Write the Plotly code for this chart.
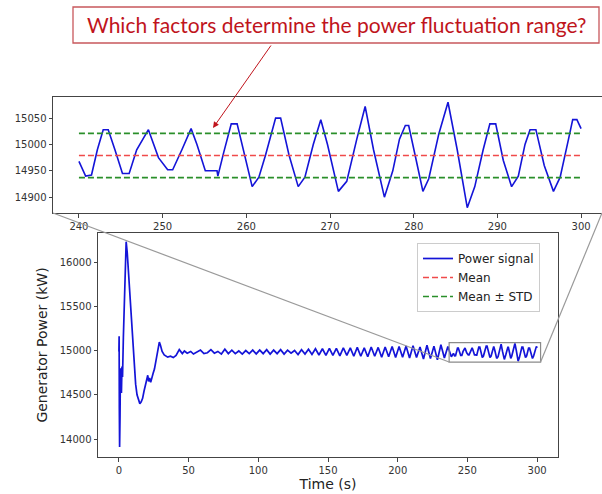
import plotly.graph_objects as go

# ---------------- data ----------------
time_s = [
    0, 0.15, 0.3, 0.5, 0.8, 1.1, 1.4, 1.8, 2.2, 2.6, 3.2, 4.0, 4.8, 5.2, 6.0, 7.0, 8.0, 9.0,
    10.0, 11.0, 12.0, 13.0, 14.0, 15.0, 16.0, 17.0, 18.0, 19.0, 20.0, 20.7, 21.3, 22.0, 22.8,
    23.5, 24.5, 25.5, 26.5, 27.5, 28.3, 29.0, 29.8, 31.0, 32.5, 34.0,
    35, 37, 39, 41, 43.3, 45.5, 47, 49, 51.5, 53.5, 56, 58.5, 61, 63.5, 66, 68.5, 71, 73.5,
    76, 78.5, 81, 83.5, 86, 88.5, 91, 93.5, 96, 98.5, 101, 103.5, 106, 108.5, 111, 113.5,
    116, 118.5, 121, 123.5, 126, 128.5, 131, 133.5, 136, 138.5, 141, 143.5, 146, 148.5,
    151, 153.5, 156, 158.5, 161, 163.5, 166, 168.5, 171, 173.5, 176, 178.5, 181, 183.5,
    186, 188.5, 191, 193.5, 196, 198.5, 201, 203.5, 206, 208.5, 211, 213.5, 216, 218.5,
    221, 223.5, 226, 228.5, 231, 233.5, 236, 238.5,
    240.0, 240.4, 240.8, 241.5, 242.2, 242.9, 243.5, 244.3, 245.2, 246.0, 246.9, 248.3,
    249.5, 250.6, 251.2, 252.3, 253.4, 254.1, 255.1, 256.5, 256.6, 257.3, 258.2, 258.9,
    259.8, 260.7, 261.5, 262.3, 263.5, 264.1, 265.1, 266.2, 267.0, 268.0, 268.9, 269.7,
    271.0, 272.0, 273.2, 274.2, 275.2, 276.5, 277.5, 278.3, 279.0, 279.4, 280.3, 281.1,
    281.8, 283.0, 284.1, 285.2, 286.4, 287.3, 288.3, 289.1, 289.8, 290.7, 291.7, 292.5,
    293.3, 293.9, 294.6, 295.6, 296.7, 297.5, 298.5, 299.0, 299.5, 300.0,
]
power_kw = [
    14990, 15160, 14350, 13910, 14250, 14800, 14600, 14520, 14820, 14700, 15150, 15700,
    16150, 16230, 16100, 15850, 15600, 15300, 15050, 14800, 14620, 14500, 14440, 14400,
    14420, 14460, 14540, 14620, 14680, 14720, 14650, 14690, 14640, 14700, 14740, 14790,
    14880, 14980, 15060, 15095, 15060, 14990, 14950, 14930,
    14925, 14935, 14920, 14945, 15010, 14965, 14995, 14970, 14990, 14960, 14985, 15005,
    14965, 14975, 15010, 14970, 14990, 14960, 15015, 14965, 15005, 14965, 14995, 14960,
    15000, 14965, 15005, 14962, 15005, 14965, 15010, 14960, 15005, 14965, 15010, 14960,
    15005, 14970, 15000, 14955, 15010, 14960, 15015, 14955, 15020, 14950, 15020, 14945,
    15025, 14945, 15025, 14940, 15030, 14945, 15030, 14935, 15035, 14935, 15030, 14930,
    15040, 14935, 15035, 14925, 15040, 14930, 15045, 14920, 15045, 14925, 15050, 14915,
    15055, 14920, 15040, 14905, 15060, 14910, 15050, 14895, 15065, 14915, 15045, 14930,
    14968, 14955, 14940, 14942, 14990, 15028, 15028, 14990, 14945, 14945, 14990, 15028,
    14975, 14952, 14952, 14990, 15030, 15000, 14950, 14950, 14940, 14985, 15039, 15039,
    14980, 14920, 14938, 14980, 15050, 15050, 14980, 14920, 14938, 15000, 15047, 15000,
    14911, 14930, 15010, 15072, 14990, 14900, 14950, 15010, 15036, 15036, 14970, 14911,
    14935, 15020, 15080, 14990, 14880, 14920, 14990, 15039, 15039, 14970, 14920, 14940,
    15000, 15028, 15028, 14960, 14911, 14938, 15010, 15047, 15047, 15030,
]
zoom_window_s = [240, 300]          # time span shown by the inset
mean_kw = 14979
std_kw = 42

main_xticks = [0, 50, 100, 150, 200, 250, 300]
main_yticks = [14000, 14500, 15000, 15500, 16000]
inset_xticks = [240, 250, 260, 270, 280, 290, 300]
inset_yticks = [14900, 14950, 15000, 15050]

question_text = "Which factors determine the power fluctuation range?"

# inset shows only the zoom window
inset_t = [t for t in time_s if zoom_window_s[0] <= t <= zoom_window_s[1]]
inset_p = [p for t, p in zip(time_s, power_kw) if zoom_window_s[0] <= t <= zoom_window_s[1]]

# ---------------- layout geometry ----------------
W, H = 602, 494
main_dom_x = [98 / W, 558 / W]
main_dom_y = [1 - 457 / H, 1 - 233 / H]
main_range_x = [-15, 315]
main_range_y = [13797, 16328]
inset_dom_x = [53 / W, 1.0]
inset_dom_y = [1 - 213 / H, 1 - 97 / H]
inset_range_x = [236.9, 302.5]
inset_range_y = [14870, 15090]

BLUE = "#1414d8"
RED = "#f04a4a"
GREEN = "#2a8f2a"
TICKFONT = dict(family="DejaVu Sans", size=10, color="#333")

fig = go.Figure()

fig.add_trace(go.Scatter(x=time_s, y=power_kw, mode="lines", name="Power signal",
                         line=dict(color=BLUE, width=1.7), xaxis="x", yaxis="y"))
fig.add_trace(go.Scatter(x=inset_t, y=inset_p, mode="lines", name="Power signal",
                         showlegend=False, line=dict(color=BLUE, width=1.6),
                         xaxis="x2", yaxis="y2"))
fig.add_trace(go.Scatter(x=zoom_window_s, y=[mean_kw, mean_kw], mode="lines", name="Mean",
                         line=dict(color=RED, width=1.6, dash="6px,3px"),
                         xaxis="x2", yaxis="y2"))
fig.add_trace(go.Scatter(x=zoom_window_s, y=[mean_kw + std_kw] * 2, mode="lines",
                         name="Mean ± STD", legendgroup="std",
                         line=dict(color=GREEN, width=1.6, dash="6px,3px"),
                         xaxis="x2", yaxis="y2"))
fig.add_trace(go.Scatter(x=zoom_window_s, y=[mean_kw - std_kw] * 2, mode="lines",
                         name="Mean ± STD", legendgroup="std", showlegend=False,
                         line=dict(color=GREEN, width=1.6, dash="6px,3px"),
                         xaxis="x2", yaxis="y2"))


def main_to_paper(x, y):
    px = main_dom_x[0] + (x - main_range_x[0]) / (main_range_x[1] - main_range_x[0]) * (main_dom_x[1] - main_dom_x[0])
    py = main_dom_y[0] + (y - main_range_y[0]) / (main_range_y[1] - main_range_y[0]) * (main_dom_y[1] - main_dom_y[0])
    return px, py


shapes = []
shapes.append(dict(type="rect", xref="x", yref="y",
                   x0=inset_range_x[0], x1=inset_range_x[1],
                   y0=inset_range_y[0], y1=inset_range_y[1],
                   line=dict(color="#8a8a8a", width=1.2)))
bl = main_to_paper(inset_range_x[0], inset_range_y[0])
br = main_to_paper(inset_range_x[1], inset_range_y[0])
shapes.append(dict(type="line", xref="paper", yref="paper", x0=bl[0], y0=bl[1],
                   x1=inset_dom_x[0], y1=inset_dom_y[0], line=dict(color="#9a9a9a", width=1.2)))
shapes.append(dict(type="line", xref="paper", yref="paper", x0=br[0], y0=br[1],
                   x1=inset_dom_x[1], y1=inset_dom_y[0], line=dict(color="#9a9a9a", width=1.2)))
shapes.append(dict(type="rect", xref="paper", yref="paper",
                   x0=73 / W, x1=599 / W, y0=1 - 43 / H, y1=1 - 7 / H,
                   line=dict(color="#c8585c", width=1.3), fillcolor="white"))

annotations = [
    dict(xref="paper", yref="paper", x=336 / W, y=1 - 25 / H, text=question_text,
         showarrow=False, xanchor="center", yanchor="middle",
         font=dict(family="Lato", size=21, color="#c0141c")),
    dict(xref="paper", yref="paper", x=213 / W, y=1 - 128 / H, ax=59, ay=-84,
         text="", showarrow=True, arrowhead=2, arrowsize=1.2, arrowwidth=1,
         arrowcolor="#c0141c"),
]

axis_common = dict(showgrid=False, zeroline=False, showline=True, linecolor="#444",
                   linewidth=1, ticks="outside", ticklen=3.5, tickcolor="#444",
                   tickfont=TICKFONT, tickformat="d", automargin=False)

fig.update_layout(
    width=W, height=H,
    margin=dict(l=0, r=0, t=0, b=0),
    paper_bgcolor="white", plot_bgcolor="white",
    showlegend=True,
    legend=dict(x=417 / W, y=1 - 243 / H, xanchor="left", yanchor="top",
                bgcolor="rgba(255,255,255,0.9)", bordercolor="#cccccc", borderwidth=1,
                font=dict(family="DejaVu Sans", size=12, color="#222"),
                tracegroupgap=0, itemwidth=30),
    xaxis=dict(domain=main_dom_x, range=main_range_x, tickvals=main_xticks, mirror=True,
               anchor="y",
               title=dict(text="Time (s)", font=dict(family="DejaVu Sans", size=14, color="#222"),
                          standoff=4),
               **axis_common),
    yaxis=dict(domain=main_dom_y, range=main_range_y, tickvals=main_yticks, mirror=True,
               anchor="x",
               title=dict(text="Generator Power (kW)",
                          font=dict(family="DejaVu Sans", size=14, color="#222"), standoff=8),
               **axis_common),
    xaxis2=dict(domain=inset_dom_x, range=inset_range_x, tickvals=inset_xticks, mirror=True,
                anchor="y2", **axis_common),
    yaxis2=dict(domain=inset_dom_y, range=inset_range_y, tickvals=inset_yticks, mirror=False,
                anchor="x2", **axis_common),
    shapes=shapes,
    annotations=annotations,
)

fig.write_html("out.html", config={"displayModeBar": False},
               post_script="document.body.style.margin='0';document.body.style.overflow='hidden';")
